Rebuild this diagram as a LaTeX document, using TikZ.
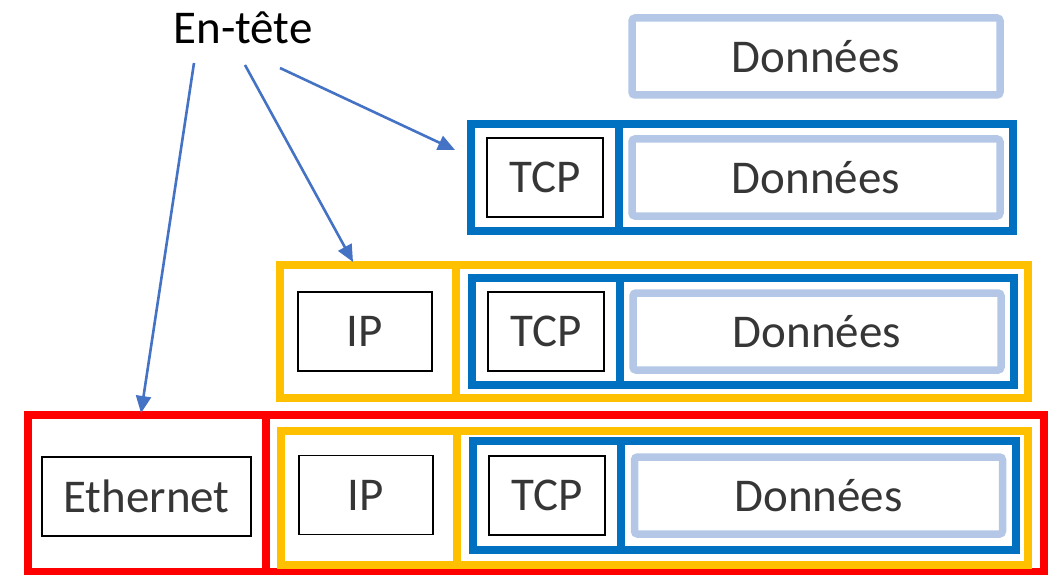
\documentclass[tikz,border=0pt]{standalone}
\usepackage{fontspec}
\setmainfont{Carlito}
\usetikzlibrary{arrows.meta, positioning}
\definecolor{colEth}{HTML}{FF0000}
\definecolor{colIP}{HTML}{FFC000}
\definecolor{colTCP}{HTML}{0070C0}
\definecolor{colData}{HTML}{B4C7E7}
\definecolor{colArrow}{HTML}{4472C4}
\definecolor{colText}{HTML}{363636}

\begin{document}
\begin{tikzpicture}[
  x=1pt, y=-1pt,
  font=\fontsize{47}{56}\selectfont,
  cell/.style={draw=#1, line width=8pt, outer sep=0pt, inner sep=0pt},
  hdrbox/.style={
    draw=black, line width=1.8pt, text=colText, inner sep=0pt,
    minimum width=116pt, minimum height=79pt
  },
  databox/.style={
    draw=colData, line width=7.5pt, rounded corners=3pt, text=colText,
    inner sep=0pt, minimum width=368pt, minimum height=77pt
  },
  arrow/.style={-{Triangle[length=17pt,width=15pt]}, line width=2.6pt, color=colArrow},
]
\useasboundingbox (0,0) rectangle (1049,575);

%% ============================================================
%% ROW 0 - Application data
%% ============================================================
\node[databox] (data0) at (816,56.5) {Données};

%% ============================================================
%% ROW 1 - TCP segment
%% ============================================================
\node[cell=colTCP, minimum width=148pt, minimum height=107pt] (tcp1h) at (545,177.5) {};
\node[cell=colTCP, minimum width=394pt, minimum height=107pt, right=0pt of tcp1h] (tcp1p) {};
\node[hdrbox] (tcp1) at (tcp1h) {TCP};
\node[databox] (data1) at (tcp1p) {Données};

%% ============================================================
%% ROW 2 - IP packet
%% ============================================================
\node[cell=colIP, minimum width=176pt, minimum height=133pt] (ip2h) at (368,331.5) {};
\node[cell=colIP, minimum width=572pt, minimum height=133pt, right=0pt of ip2h] (ip2p) {};
\node[hdrbox, minimum width=134pt, xshift=-3pt] (ip2) at (ip2h) {IP};

\node[cell=colTCP, minimum width=148pt, minimum height=107pt, right=16pt of ip2p.west] (tcp2h) {};
\node[cell=colTCP, minimum width=394pt, minimum height=107pt, right=0pt of tcp2h] (tcp2p) {};
\node[hdrbox] (tcp2) at (tcp2h) {TCP};
\node[databox] (data2) at (tcp2p) {Données};

%% ============================================================
%% ROW 3 - Ethernet frame
%% ============================================================
\node[cell=colEth, minimum width=238pt, minimum height=157pt] (eth3h) at (146.5,493.5) {};
\node[cell=colEth, minimum width=778pt, minimum height=157pt, right=0pt of eth3h] (eth3p) {};
\node[hdrbox, minimum width=209pt, yshift=-3pt] (eth3) at (eth3h) {Ethernet};

\node[cell=colIP, minimum width=176pt, minimum height=134pt,
      right=15.5pt of eth3p.west, yshift=-4.5pt] (ip3h) {};
\node[cell=colIP, minimum width=571pt, minimum height=134pt, right=0pt of ip3h] (ip3p) {};
\node[hdrbox, minimum width=134pt, xshift=-3pt, yshift=3pt] (ip3) at (ip3h) {IP};

\node[cell=colTCP, minimum width=148pt, minimum height=109pt,
      right=16pt of ip3p.west, yshift=2.5pt] (tcp3h) {};
\node[cell=colTCP, minimum width=395pt, minimum height=109pt, right=0pt of tcp3h] (tcp3p) {};
\node[hdrbox] (tcp3) at (tcp3h) {TCP};
\node[databox] (data3) at (tcp3p) {Données};

%% ============================================================
%% HEADER LABEL and ARROWS
%% ============================================================
\node (entete) at (243,28) {En-tête};
\coordinate (s1) at (194,63);
\coordinate (s2) at (245,65);
\coordinate (s3) at (280,68);

\draw[arrow] (s1) -- ([xshift=-5.5pt,yshift=2pt]eth3h.north);
\draw[arrow] (s2) -- ([xshift=-15pt,yshift=3pt]ip2h.north);
\draw[arrow] (s3) -- ([xshift=-16pt,yshift=27.5pt]tcp1h.west);

\end{tikzpicture}
\end{document}
